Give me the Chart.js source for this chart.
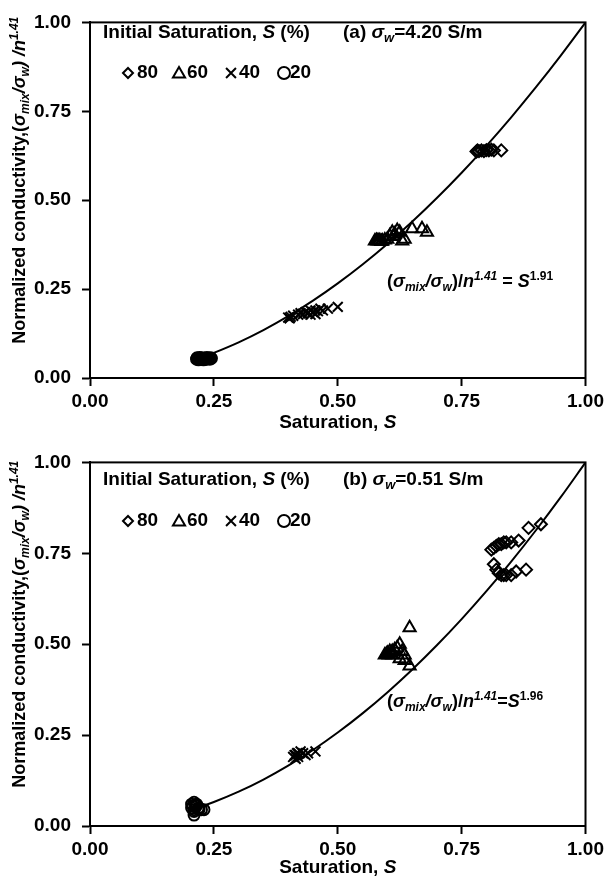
<!DOCTYPE html>
<html>
<head>
<meta charset="utf-8">
<script src="https://cdn.jsdelivr.net/npm/chart.js@4.4.1/dist/chart.umd.min.js"></script>
<style>
  body { margin: 0; background: #fff; }
  canvas { display: block; }
</style>
</head>
<body>
<canvas id="chartA" width="608" height="440"></canvas>
<canvas id="chartB" width="608" height="441"></canvas>
<script>
// axis ticks
var tickValues = [0, 0.25, 0.5, 0.75, 1];
var tickLabels = ['0.00', '0.25', '0.50', '0.75', '1.00'];

// (a) sigma_w = 4.20 S/m
var a80x = [0.78, 0.782, 0.785, 0.79, 0.795, 0.80, 0.805, 0.81, 0.815, 0.83];
var a80y = [0.637, 0.640, 0.638, 0.640, 0.638, 0.641, 0.640, 0.642, 0.640, 0.640];
var a60x = [0.575, 0.578, 0.58, 0.583, 0.585, 0.588, 0.59, 0.595, 0.60, 0.605, 0.61, 0.612, 0.615, 0.62, 0.625, 0.63, 0.635, 0.65, 0.67, 0.68];
var a60y = [0.385, 0.387, 0.385, 0.386, 0.386, 0.384, 0.385, 0.388, 0.390, 0.400, 0.410, 0.398, 0.405, 0.415, 0.410, 0.385, 0.390, 0.420, 0.420, 0.410];
var a40x = [0.40, 0.403, 0.405, 0.41, 0.42, 0.425, 0.43, 0.435, 0.44, 0.445, 0.445, 0.45, 0.455, 0.455, 0.46, 0.465, 0.47, 0.48, 0.50];
var a40y = [0.170, 0.168, 0.172, 0.175, 0.178, 0.182, 0.180, 0.185, 0.182, 0.190, 0.178, 0.185, 0.190, 0.180, 0.188, 0.195, 0.190, 0.195, 0.200];
var a20x = [0.215, 0.216, 0.218, 0.219, 0.22, 0.221, 0.222, 0.224, 0.225, 0.226, 0.228, 0.229, 0.23, 0.232, 0.233, 0.235, 0.236, 0.238, 0.24, 0.242, 0.244, 0.245];
var a20y = [0.053, 0.057, 0.055, 0.051, 0.054, 0.058, 0.056, 0.052, 0.053, 0.057, 0.055, 0.051, 0.054, 0.056, 0.052, 0.055, 0.058, 0.054, 0.056, 0.053, 0.057, 0.055];
var expA = 1.91;

// (b) sigma_w = 0.51 S/m
var b80x = [0.81, 0.815, 0.82, 0.825, 0.83, 0.835, 0.84, 0.85, 0.865, 0.885, 0.91,
            0.815, 0.82, 0.825, 0.83, 0.835, 0.84, 0.85, 0.86, 0.88];
var b80y = [0.760, 0.765, 0.770, 0.775, 0.775, 0.780, 0.780, 0.780, 0.785, 0.820, 0.830,
            0.720, 0.705, 0.695, 0.690, 0.690, 0.690, 0.690, 0.700, 0.705];
var b60x = [0.595, 0.598, 0.60, 0.603, 0.605, 0.608, 0.61, 0.61, 0.615, 0.62, 0.625, 0.625, 0.63, 0.635, 0.635, 0.645, 0.645];
var b60y = [0.470, 0.472, 0.475, 0.470, 0.480, 0.476, 0.480, 0.470, 0.485, 0.490, 0.500, 0.460, 0.480, 0.470, 0.455, 0.545, 0.440];
var b40x = [0.41, 0.413, 0.415, 0.415, 0.418, 0.42, 0.42, 0.425, 0.43, 0.435, 0.44, 0.455];
var b40y = [0.190, 0.195, 0.195, 0.185, 0.200, 0.200, 0.190, 0.205, 0.200, 0.195, 0.200, 0.205];
var b20x = [0.205, 0.205, 0.207, 0.21, 0.21, 0.21, 0.21, 0.212, 0.215, 0.215, 0.218, 0.22, 0.22, 0.225, 0.23];
var b20y = [0.060, 0.050, 0.055, 0.065, 0.040, 0.030, 0.045, 0.058, 0.055, 0.060, 0.048, 0.050, 0.045, 0.045, 0.045];
var expB = 1.96;

// saturation values along the fitted power law
var fitA = [0.22, 0.25, 0.30, 0.35, 0.40, 0.45, 0.50, 0.55, 0.60, 0.65, 0.70, 0.75, 0.80, 0.85, 0.90, 0.95, 1.00];
var fitB = [0.21, 0.25, 0.30, 0.35, 0.40, 0.45, 0.50, 0.55, 0.60, 0.65, 0.70, 0.75, 0.80, 0.85, 0.90, 0.95, 1.00];

var FONT = '"Liberation Sans", Arial, sans-serif';

function pts(xs, ys) {
  return xs.map(function (x, i) { return { x: x, y: ys[i] }; });
}

// draws a run of text pieces: [text, style], style in n,i,sub,isub,sup,isup
function rich(ctx, parts, x, y, size, align) {
  function fontFor(st) {
    var small = st.indexOf('sub') >= 0 || st.indexOf('sup') >= 0;
    var it = st.charAt(0) === 'i';
    return (it ? 'italic ' : '') + 'bold ' + (small ? Math.round(size * 0.68) : size) + 'px ' + FONT;
  }
  var total = 0;
  parts.forEach(function (p) { ctx.font = fontFor(p[1]); total += ctx.measureText(p[0]).width; });
  var cx = align === 'center' ? x - total / 2 : x;
  ctx.textAlign = 'left';
  ctx.textBaseline = 'middle';
  parts.forEach(function (p) {
    var st = p[1], dy = 0;
    if (st.indexOf('sub') >= 0) dy = size * 0.3;
    if (st.indexOf('sup') >= 0) dy = -size * 0.32;
    ctx.font = fontFor(st);
    ctx.fillText(p[0], cx, y + dy);
    cx += ctx.measureText(p[0]).width;
  });
}

function legendMark(ctx, style, r, x, y) {
  ctx.save();
  ctx.strokeStyle = '#000';
  ctx.fillStyle = 'rgba(0,0,0,0)';
  ctx.lineWidth = 2;
  Chart.helpers.drawPoint(ctx, { pointStyle: style, radius: r, rotation: 0, borderWidth: 2 }, x, y);
  ctx.restore();
}

function makeChart(id, sets, fitS, exp, cfg) {
  var marker = function (label, data, style, r) {
    return {
      label: label, data: data, pointStyle: style, pointRadius: r, pointHoverRadius: r,
      borderColor: '#000', backgroundColor: 'rgba(0,0,0,0)', pointBorderWidth: 2, showLine: false
    };
  };
  var decor = {
    id: 'decor',
    afterDraw: function (chart) {
      var ctx = chart.ctx, a = chart.chartArea;
      ctx.save();
      ctx.strokeStyle = '#000';
      ctx.lineWidth = 2;
      ctx.strokeRect(a.left, a.top, a.right - a.left, a.bottom - a.top);
      ctx.fillStyle = '#000';

      // axis titles
      rich(ctx, [['Saturation, ', 'n'], ['S', 'i']], (a.left + a.right) / 2, cfg.xTitleY, 19, 'center');
      ctx.save();
      ctx.translate(20, (a.top + a.bottom) / 2 - 20);
      ctx.rotate(-Math.PI / 2);
      rich(ctx, [['Normalized conductivity,(', 'n'], ['σ', 'i'], ['mix', 'isub'], ['/', 'i'], ['σ', 'i'],
        ['w', 'isub'], [') /', 'i'], ['n', 'i'], ['1.41', 'isup']], 0, 0, 18, 'center');
      ctx.restore();

      // legend block
      rich(ctx, [['Initial Saturation, ', 'n'], ['S', 'i'], [' (%)', 'n']], 103, cfg.legendY, 19, 'left');
      rich(ctx, [[cfg.panel + ' ', 'n'], ['σ', 'i'], ['w', 'isub'], ['=' + cfg.sigma + ' S/m', 'n']], 343, cfg.legendY, 19, 'left');
      var my = cfg.markY;
      legendMark(ctx, 'rectRot', 5, 128, my);
      rich(ctx, [['80', 'n']], 137, my, 19, 'left');
      legendMark(ctx, 'triangle', 7, 179, my + 1);
      rich(ctx, [['60', 'n']], 187, my, 19, 'left');
      legendMark(ctx, 'crossRot', 7, 231, my);
      rich(ctx, [['40', 'n']], 239, my, 19, 'left');
      legendMark(ctx, 'circle', 6, 284, my);
      rich(ctx, [['20', 'n']], 290, my, 19, 'left');

      // fitted relation
      rich(ctx, [['(', 'n'], ['σ', 'i'], ['mix', 'isub'], ['/', 'i'], ['σ', 'i'], ['w', 'isub'], [')/', 'n'],
        ['n', 'i'], ['1.41', 'isup'], [cfg.eq, 'n'], ['S', 'i'], [String(exp), 'sup']], 387, cfg.eqY, 18, 'left');
      ctx.restore();
    }
  };
  var tickFont = { family: FONT, size: 19, weight: 'bold' };
  return new Chart(document.getElementById(id), {
    type: 'scatter',
    data: {
      datasets: [
        {
          type: 'line', label: 'fit', data: fitS.map(function (s) { return { x: s, y: Math.pow(s, exp) }; }),
          borderColor: '#000', borderWidth: 2, pointRadius: 0, fill: false, tension: 0.4
        },
        marker('80', sets[0], 'rectRot', 6),
        marker('60', sets[1], 'triangle', 7),
        marker('40', sets[2], 'crossRot', 7),
        marker('20', sets[3], 'circle', 5.5)
      ]
    },
    options: {
      responsive: false,
      animation: false,
      events: [],
      layout: { padding: { left: 0, right: 19, top: cfg.top, bottom: 0 } },
      plugins: { legend: { display: false }, tooltip: { enabled: false } },
      scales: {
        x: {
          type: 'linear', min: 0, max: 1,
          afterBuildTicks: function (s) { s.ticks = tickValues.map(function (v) { return { value: v }; }); },
          afterFit: function (s) { s.height = cfg.xHeight; },
          ticks: { font: tickFont, color: '#000', padding: 4, maxRotation: 0,
            callback: function (v, i) { return tickLabels[i]; } },
          grid: { drawOnChartArea: false, drawTicks: true, tickLength: 8, tickWidth: 2, tickColor: '#000' },
          border: { display: true, color: '#000', width: 2 }
        },
        y: {
          type: 'linear', min: 0, max: 1,
          afterBuildTicks: function (s) { s.ticks = tickValues.map(function (v) { return { value: v }; }); },
          afterFit: function (s) { s.width = 90; },
          ticks: { font: tickFont, color: '#000', padding: 11,
            callback: function (v, i) { return tickLabels[i]; } },
          grid: { drawOnChartArea: false, drawTicks: true, tickLength: 8, tickWidth: 2, tickColor: '#000' },
          border: { display: true, color: '#000', width: 2 }
        }
      }
    },
    plugins: [decor]
  });
}

makeChart('chartA', [pts(a80x, a80y), pts(a60x, a60y), pts(a40x, a40y), pts(a20x, a20y)], fitA, expA, {
  top: 12, xHeight: 62, xTitleY: 423, legendY: 33, markY: 73, eqY: 282,
  panel: '(a)', sigma: '4.20', eq: ' = '
});
makeChart('chartB', [pts(b80x, b80y), pts(b60x, b60y), pts(b40x, b40y), pts(b20x, b20y)], fitB, expB, {
  top: 19, xHeight: 55, xTitleY: 428, legendY: 40, markY: 81, eqY: 262,
  panel: '(b)', sigma: '0.51', eq: '='
});
</script>
</body>
</html>
